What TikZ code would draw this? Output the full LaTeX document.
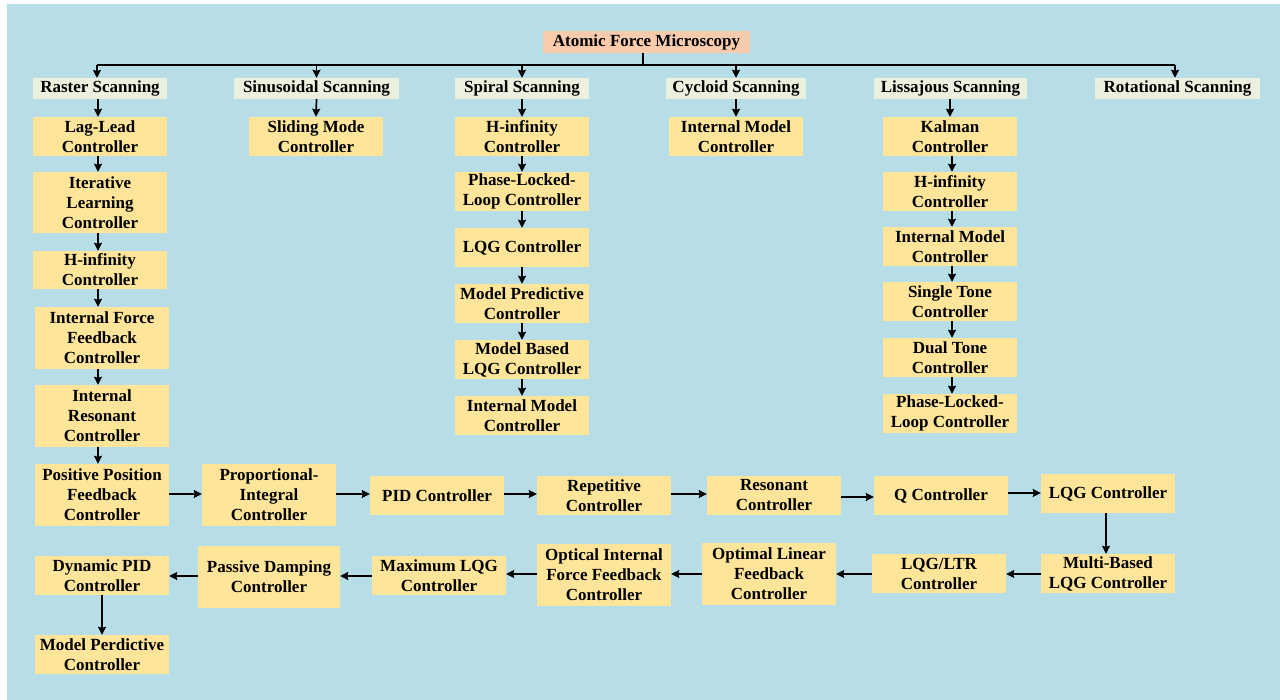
\documentclass[tikz,border=0pt]{standalone}
\usepackage{fontspec}
\setmainfont{Liberation Serif}
\usetikzlibrary{arrows.meta}
\definecolor{bgblue}{RGB}{183,221,230}
\definecolor{boxyellow}{RGB}{255,229,153}
\definecolor{hdrgreen}{RGB}{235,241,222}
\definecolor{rootpeach}{RGB}{248,203,173}
\tikzset{
  bx/.style args={#1/#2}{inner sep=0pt, minimum width=#1pt, minimum height=#2pt, align=center,
    font=\fontsize{17}{20}\selectfont\bfseries, text=black},
  ctrl/.style={bx=#1, fill=boxyellow},
  hdr/.style={bx=#1, fill=hdrgreen},
  rootbox/.style={bx=#1, fill=rootpeach},
  arr/.style={line width=1.7pt, -{Stealth[length=8pt,width=8pt,inset=1pt]}},
  ln/.style={line width=2pt}
}
\begin{document}
\begin{tikzpicture}[x=1pt,y=-1pt]
\useasboundingbox (0,0) rectangle (1280,700);
\fill[white] (0,0) rectangle (1280,700);
\fill[bgblue] (7,4) rectangle (1280,700);
% root
\node[rootbox=207/22] (root) at (646.5,42) {Atomic Force Microscopy};
% headers
\node[hdr=134/21] (hr) at (100,88.5) {Raster Scanning};
\node[hdr=165/21] (hs) at (316.5,88.5) {Sinusoidal Scanning};
\node[hdr=134/21] (hp) at (522,88.5) {Spiral Scanning};
\node[hdr=140/21] (hc) at (736,88.5) {Cycloid Scanning};
\node[hdr=153/21] (hl) at (950.5,88.5) {Lissajous Scanning};
\node[hdr=165/21] (ho) at (1177.5,88.5) {Rotational Scanning};
% raster column
\node[ctrl=134/39] (r1) at (100,136.5) {Lag-Lead\\Controller};
\node[ctrl=134/61] (r2) at (100,202.5) {Iterative\\Learning\\Controller};
\node[ctrl=134/38] (r3) at (100,270) {H-infinity\\Controller};
\node[ctrl=134/62] (r4) at (102,338) {Internal Force\\Feedback\\Controller};
\node[ctrl=134/62] (r5) at (102,416) {Internal\\Resonant\\Controller};
\node[ctrl=134/62] (r6) at (102,495) {Positive Position\\Feedback\\Controller};
% sinusoidal
\node[ctrl=134/39] (s1) at (316,136.5) {Sliding Mode\\Controller};
% spiral
\node[ctrl=134/39] (p1) at (522,136.5) {H-infinity\\Controller};
\node[ctrl=134/39] (p2) at (522,191.5) {Phase-Locked-\\Loop Controller};
\node[ctrl=134/39] (p3) at (522,247.5) {LQG Controller};
\node[ctrl=134/39] (p4) at (522,303.5) {Model Predictive\\Controller};
\node[ctrl=134/39] (p5) at (522,359.5) {Model Based\\LQG Controller};
\node[ctrl=134/39] (p6) at (522,415.5) {Internal Model\\Controller};
% cycloid
\node[ctrl=134/39] (c1) at (736,136.5) {Internal Model\\Controller};
% lissajous
\node[ctrl=134/39] (l1) at (950,136.5) {Kalman\\Controller};
\node[ctrl=134/39] (l2) at (950,191.5) {H-infinity\\Controller};
\node[ctrl=134/39] (l3) at (950,246.5) {Internal Model\\Controller};
\node[ctrl=134/39] (l4) at (950,301.5) {Single Tone\\Controller};
\node[ctrl=134/39] (l5) at (950,357.5) {Dual Tone\\Controller};
\node[ctrl=134/39] (l6) at (950,413.5) {Phase-Locked-\\Loop Controller};
% row 1
\node[ctrl=134/62] (b1) at (269,495) {Proportional-\\Integral\\Controller};
\node[ctrl=134/39] (b2) at (437,495.5) {PID Controller};
\node[ctrl=134/39] (b3) at (604,495.5) {Repetitive\\Controller};
\node[ctrl=134/39] (b4) at (774,495.5) {Resonant\\Controller};
\node[ctrl=134/39] (b5) at (941,495.5) {Q Controller};
\node[ctrl=134/39] (b6) at (1108,493.5) {LQG Controller};
% row 2
\node[ctrl=134/39] (d1) at (1108,573.5) {Multi-Based\\LQG Controller};
\node[ctrl=134/39] (d2) at (939,573.5) {LQG/LTR\\Controller};
\node[ctrl=134/62] (d3) at (769,574) {Optimal Linear\\Feedback\\Controller};
\node[ctrl=134/62] (d4) at (604,575) {Optical Internal\\Force Feedback\\Controller};
\node[ctrl=134/39] (d5) at (439,575.5) {Maximum LQG\\Controller};
\node[ctrl=142/62] (d6) at (269,577) {Passive Damping\\Controller};
\node[ctrl=134/39] (d7) at (102,575.5) {Dynamic PID\\Controller};
\node[ctrl=134/39] (d8) at (102,654.5) {Model Perdictive\\Controller};
% top tree
\coordinate (tl) at (97,65);
\coordinate (tr) at (1175,65);
\draw[ln] (tl) -- (tr);
\draw[ln] (root.south -| 643,0) -- (643,65);
\draw[arr] (97,65) -- (97,78);
\draw[arr] (tl -| hs) -- (hs.north);
\draw[arr] (tl -| hp) -- (hp.north);
\draw[arr] (tl -| hc) -- (hc.north);
\draw[arr] (tr) -- (ho.north -| tr);
% header to first
\draw[arr] (hr.south -| 98,0) -- (r1.north -| 98,0);
\draw[arr] (hs.south) -- (s1.north);
\draw[arr] (hp.south) -- (p1.north);
\draw[arr] (hc.south) -- (c1.north);
\draw[arr] (hl.south -| l1) -- (l1.north);
% raster chain
\foreach \a/\b in {r1/r2,r2/r3,r3/r4,r4/r5,r5/r6}
  \draw[arr] (\a.south -| 98,0) -- (\b.north -| 98,0);
% spiral chain
\foreach \a/\b in {p1/p2,p2/p3,p3/p4,p4/p5,p5/p6}
  \draw[arr] (\a.south) -- (\b.north);
% lissajous chain
\foreach \a/\b in {l1/l2,l2/l3,l3/l4,l4/l5,l5/l6}
  \draw[arr] (\a.south -| 952,0) -- (\b.north -| 952,0);
% row 1
\draw[arr] (r6.east |- 0,494) -- (b1.west |- 0,494);
\draw[arr] (b1.east |- 0,494) -- (b2.west |- 0,494);
\draw[arr] (b2.east |- 0,494) -- (b3.west |- 0,494);
\draw[arr] (b3.east |- 0,494) -- (b4.west |- 0,494);
\draw[arr] (b4.east |- 0,497) -- (b5.west |- 0,497);
\draw[arr] (b5.east |- 0,493) -- (b6.west |- 0,493);
\draw[arr] (b6.south -| 1106,0) -- (d1.north -| 1106,0);
% row 2
\draw[arr] (d1.west |- 0,574) -- (d2.east |- 0,574);
\draw[arr] (d2.west |- 0,574) -- (d3.east |- 0,574);
\draw[arr] (d3.west |- 0,574) -- (d4.east |- 0,574);
\draw[arr] (d4.west |- 0,574) -- (d5.east |- 0,574);
\draw[arr] (d5.west |- 0,576) -- (d6.east |- 0,576);
\draw[arr] (d6.west |- 0,576) -- (d7.east |- 0,576);
\draw[arr] (d7.south) -- (d8.north);
\end{tikzpicture}
\end{document}
